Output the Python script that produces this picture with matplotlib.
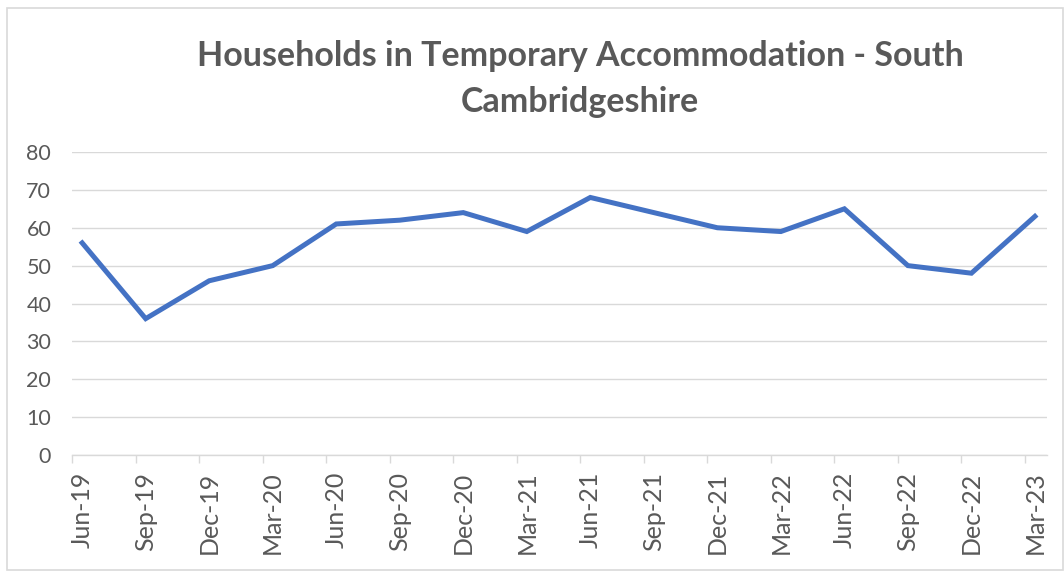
import matplotlib
matplotlib.use("Agg")
import matplotlib.pyplot as plt
from matplotlib.patches import Rectangle

# dati
quarters = ["Jun-19", "Sep-19", "Dec-19", "Mar-20", "Jun-20", "Sep-20", "Dec-20", "Mar-21",
            "Jun-21", "Sep-21", "Dec-21", "Mar-22", "Jun-22", "Sep-22", "Dec-22", "Mar-23"]
households = [56, 36, 46, 50, 61, 62, 64, 59, 68, 64, 60, 59, 65, 50, 48, 63]
y_ticks = [0, 10, 20, 30, 40, 50, 60, 70, 80]

title = "Households in Temporary Accommodation - South\nCambridgeshire"

grey_text = "#595959"
grid_col = "#d9d9d9"
line_col = "#4472C4"

plt.rcParams["font.family"] = ["Lato", "DejaVu Sans"]

W, H = 1064, 572
fig = plt.figure(figsize=(W / 100, H / 100), dpi=100)

# posizione area del grafico (pixel)
left, right, top, bottom = 72, 1047, 152, 455
ax = fig.add_axes([left / W, 1 - bottom / H, (right - left) / W, (bottom - top) / H])

x = list(range(len(quarters)))
ax.plot(x, households, color=line_col, linewidth=3.6, solid_joinstyle="miter", clip_on=False, zorder=3)

ax.set_xlim(-0.16, len(quarters) - 1 + 0.19)
ax.set_ylim(0, 80)

ax.set_yticks(y_ticks)
ax.set_yticklabels([str(v) for v in y_ticks])
ax.tick_params(axis="y", length=0, pad=15, labelsize=15.5, labelcolor=grey_text)
ax.yaxis.grid(True, color=grid_col, linewidth=1.0)
ax.set_axisbelow(True)

ax.set_xticks(x)
ax.set_xticklabels(quarters, rotation=90)
ax.tick_params(axis="x", which="major", length=0, pad=12, labelsize=18, labelcolor=grey_text)
ax.set_xticks([i - 0.16 for i in x], minor=True)
ax.tick_params(axis="x", which="minor", length=6, width=1.0, color=grid_col, direction="out")

for s in ["top", "right", "left"]:
    ax.spines[s].set_visible(False)
ax.spines["bottom"].set_color(grid_col)
ax.spines["bottom"].set_linewidth(1.0)

fig.text(580 / W, 1 - 79 / H, title, ha="center", va="center", fontsize=24.5,
         fontweight="bold", color=grey_text, linespacing=1.55)

# bordo dell'area del grafico
fig.patches.append(Rectangle((7 / W, 1 - 570 / H), (1063 - 7) / W, (570 - 8) / H,
                             transform=fig.transFigure, fill=False,
                             edgecolor=grid_col, linewidth=1.2))

fig.savefig("out.png", dpi=100)
plt.close(fig)
